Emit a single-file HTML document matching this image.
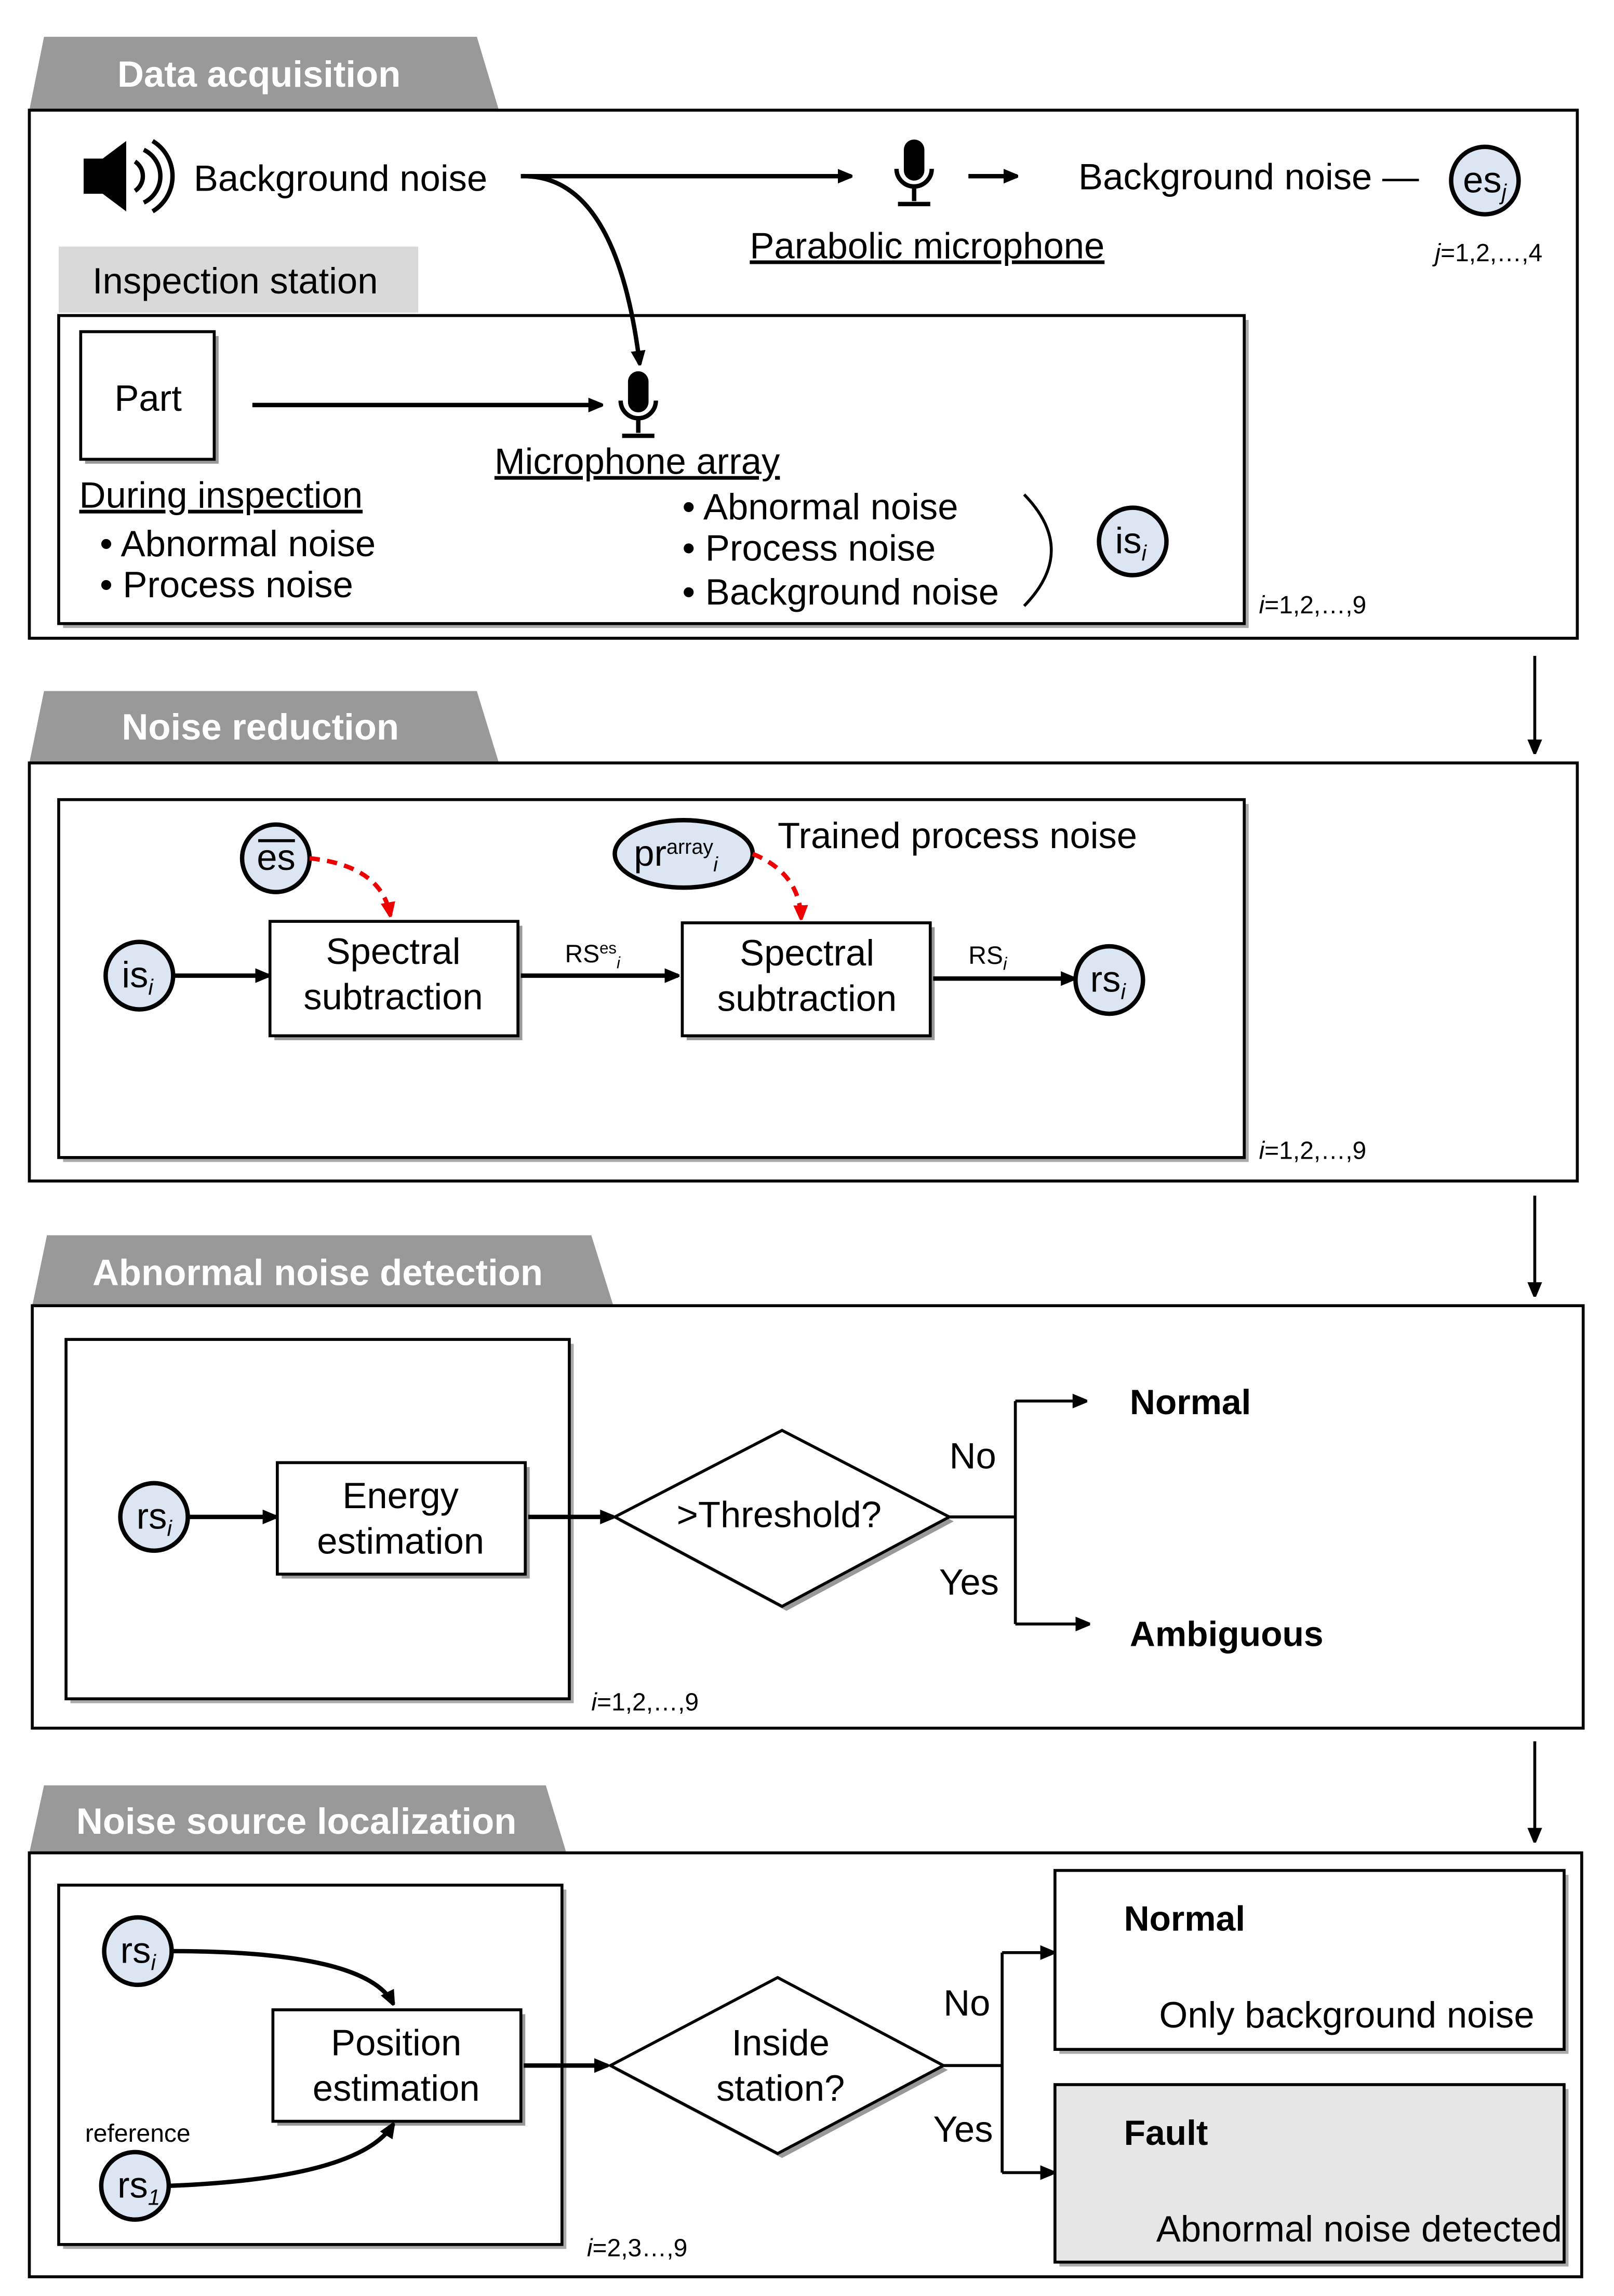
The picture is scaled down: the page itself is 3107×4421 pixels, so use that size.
<!DOCTYPE html>
<html><head><meta charset="utf-8"><style>
html,body{margin:0;padding:0;background:#fff}
svg{display:block}
text{font-family:"Liberation Sans",Arial,sans-serif;fill:#000}
.t{font-size:25px}
.h{font-size:25px;font-weight:bold;fill:#fff}
.b{font-size:24px;font-weight:bold}
.s{font-size:17px}
</style></head><body>
<svg width="3107" height="4421" viewBox="0 0 1100 1565" xmlns="http://www.w3.org/2000/svg">
<defs>
<marker id="ar" markerWidth="10" markerHeight="10" refX="9" refY="5" orient="auto" markerUnits="userSpaceOnUse"><path d="M0,0 L12,5 L0,10 z" fill="#000"/></marker>
<marker id="arr" markerWidth="10" markerHeight="10" refX="9" refY="5" orient="auto" markerUnits="userSpaceOnUse"><path d="M0,0 L12,5 L0,10 z" fill="#e00"/></marker>
<g id="mic"><rect x="-7" y="0" width="14" height="28" rx="7" fill="#000"/><path d="M-12,20 A12,12 0 0 0 12,20" fill="none" stroke="#000" stroke-width="3"/><line x1="0" y1="32" x2="0" y2="42" stroke="#000" stroke-width="3"/><line x1="-11" y1="44" x2="11" y2="44" stroke="#000" stroke-width="3"/></g>
</defs>
<rect width="1100" height="1565" fill="#fff"/>

<!-- Section 1 -->
<polygon points="30,25 325,25 340,75 20,75" fill="#999"/>
<text x="80" y="59" class="h">Data acquisition</text>
<rect x="20" y="75" width="1055" height="360" fill="none" stroke="#000" stroke-width="2"/>
<polygon points="57,108 70,108 86,96 86,144 70,132 57,132" fill="#000"/>
<path d="M92,110 A12,12 0 0 1 92,130 M98,102 A20,20 0 0 1 98,138 M104,96 A28,28 0 0 1 104,144" fill="none" stroke="#000" stroke-width="3"/>
<text x="132" y="130" class="t">Background noise</text>
<line x1="355" y1="120" x2="580" y2="120" stroke="#000" stroke-width="3" marker-end="url(#ar)"/>
<use href="#mic" x="623" y="95"/>
<line x1="660" y1="120" x2="693" y2="120" stroke="#000" stroke-width="3" marker-end="url(#ar)"/>
<text x="735" y="129" class="t">Background noise —</text>
<circle cx="1012" cy="123" r="23" fill="#dce6f2" stroke="#000" stroke-width="3"/>
<text x="997" y="131" class="t">es<tspan font-size="15" font-style="italic" dy="5">j</tspan></text>
<text x="978" y="178" class="s"><tspan font-style="italic">j</tspan>=1,2,…,4</text>
<text x="511" y="176" class="t" text-decoration="underline">Parabolic microphone</text>
<rect x="40" y="168" width="245" height="45" fill="#d9d9d9"/>
<text x="63" y="200" class="t">Inspection station</text>
<rect x="43" y="218" width="808" height="210" fill="#aaa"/>
<rect x="40" y="215" width="808" height="210" fill="#fff" stroke="#000" stroke-width="2"/>
<path d="M355,120 Q420,118 436,248" fill="none" stroke="#000" stroke-width="3" marker-end="url(#ar)"/>
<rect x="58" y="229" width="91" height="87" fill="#999"/>
<rect x="55" y="226" width="91" height="87" fill="#fff" stroke="#000" stroke-width="2"/>
<text x="78" y="280" class="t">Part</text>
<line x1="172" y1="276" x2="410" y2="276" stroke="#000" stroke-width="3" marker-end="url(#ar)"/>
<use href="#mic" x="435" y="253"/>
<text x="337" y="323" class="t" text-decoration="underline">Microphone array</text>
<text x="54" y="346" class="t" text-decoration="underline">During inspection</text>
<text x="68" y="379" class="t">• Abnormal noise</text>
<text x="68" y="407" class="t">• Process noise</text>
<text x="465" y="354" class="t">• Abnormal noise</text>
<text x="465" y="382" class="t">• Process noise</text>
<text x="465" y="412" class="t">• Background noise</text>
<path d="M698,337 Q735,375 698,413" fill="none" stroke="#000" stroke-width="2"/>
<circle cx="772" cy="369" r="23" fill="#dce6f2" stroke="#000" stroke-width="3"/>
<text x="760" y="377" class="t">is<tspan font-size="15" font-style="italic" dy="5">i</tspan></text>
<text x="858" y="418" class="s"><tspan font-style="italic">i</tspan>=1,2,…,9</text>
<line x1="1046" y1="447" x2="1046" y2="513" stroke="#000" stroke-width="2" marker-end="url(#ar)"/>

<!-- Section 2 -->
<polygon points="30,471 325,471 340,520 20,520" fill="#999"/>
<text x="83" y="504" class="h">Noise reduction</text>
<rect x="20" y="520" width="1055" height="285" fill="none" stroke="#000" stroke-width="2"/>
<rect x="43" y="548" width="808" height="244" fill="#aaa"/>
<rect x="40" y="545" width="808" height="244" fill="#fff" stroke="#000" stroke-width="2"/>
<circle cx="188" cy="585" r="23" fill="#dce6f2" stroke="#000" stroke-width="3"/>
<text x="175" y="593" class="t">es</text><line x1="176" y1="573" x2="201" y2="573" stroke="#000" stroke-width="2"/>
<ellipse cx="466" cy="582" rx="47" ry="23" fill="#dce6f2" stroke="#000" stroke-width="3"/>
<text x="432" y="590" class="t">pr<tspan font-size="14" dy="-8">array</tspan><tspan font-size="14" font-style="italic" dy="12">i</tspan></text>
<text x="530" y="578" class="t">Trained process noise</text>
<path d="M211,585 Q260,590 266,624" fill="none" stroke="#e00" stroke-width="3" stroke-dasharray="7,5" marker-end="url(#arr)"/>
<path d="M513,582 Q545,595 546,626" fill="none" stroke="#e00" stroke-width="3" stroke-dasharray="7,5" marker-end="url(#arr)"/>
<circle cx="95" cy="665" r="23" fill="#dce6f2" stroke="#000" stroke-width="3"/>
<text x="83" y="673" class="t">is<tspan font-size="15" font-style="italic" dy="5">i</tspan></text>
<line x1="118" y1="665" x2="183" y2="665" stroke="#000" stroke-width="3" marker-end="url(#ar)"/>
<rect x="187" y="631" width="169" height="78" fill="#999"/>
<rect x="184" y="628" width="169" height="78" fill="#fff" stroke="#000" stroke-width="2"/>
<text x="268" y="657" class="t" text-anchor="middle">Spectral</text>
<text x="268" y="688" class="t" text-anchor="middle">subtraction</text>
<line x1="355" y1="665" x2="462" y2="665" stroke="#000" stroke-width="3" marker-end="url(#ar)"/>
<text x="385" y="656" class="s">RS<tspan font-size="11" dy="-6">es</tspan><tspan font-size="11" font-style="italic" dy="10">i</tspan></text>
<rect x="468" y="632" width="169" height="77" fill="#999"/>
<rect x="465" y="629" width="169" height="77" fill="#fff" stroke="#000" stroke-width="2"/>
<text x="550" y="658" class="t" text-anchor="middle">Spectral</text>
<text x="550" y="689" class="t" text-anchor="middle">subtraction</text>
<line x1="636" y1="667" x2="732" y2="667" stroke="#000" stroke-width="3" marker-end="url(#ar)"/>
<text x="660" y="657" class="s">RS<tspan font-size="12" font-style="italic" dy="4">i</tspan></text>
<circle cx="756" cy="668" r="23" fill="#dce6f2" stroke="#000" stroke-width="3"/>
<text x="743" y="676" class="t">rs<tspan font-size="15" font-style="italic" dy="5">i</tspan></text>
<text x="858" y="790" class="s"><tspan font-style="italic">i</tspan>=1,2,…,9</text>
<line x1="1046" y1="815" x2="1046" y2="883" stroke="#000" stroke-width="2" marker-end="url(#ar)"/>

<!-- Section 3 -->
<polygon points="32,842 403,842 418,890 22,890" fill="#999"/>
<text x="63" y="876" class="h">Abnormal  noise detection</text>
<rect x="22" y="890" width="1057" height="288" fill="none" stroke="#000" stroke-width="2"/>
<rect x="48" y="916" width="343" height="245" fill="#aaa"/>
<rect x="45" y="913" width="343" height="245" fill="#fff" stroke="#000" stroke-width="2"/>
<circle cx="105" cy="1034" r="23" fill="#dce6f2" stroke="#000" stroke-width="3"/>
<text x="93" y="1042" class="t">rs<tspan font-size="15" font-style="italic" dy="5">i</tspan></text>
<line x1="128" y1="1034" x2="188" y2="1034" stroke="#000" stroke-width="3" marker-end="url(#ar)"/>
<rect x="192" y="1000" width="169" height="76" fill="#999"/>
<rect x="189" y="997" width="169" height="76" fill="#fff" stroke="#000" stroke-width="2"/>
<text x="273" y="1028" class="t" text-anchor="middle">Energy</text>
<text x="273" y="1059" class="t" text-anchor="middle">estimation</text>
<line x1="360" y1="1034" x2="418" y2="1034" stroke="#000" stroke-width="3" marker-end="url(#ar)"/>
<polygon points="536,978 650,1037 536,1098 422,1037" fill="#999"/>
<polygon points="533,975 647,1034 533,1095 419,1034" fill="#fff" stroke="#000" stroke-width="2"/>
<text x="531" y="1041" class="t" text-anchor="middle">&gt;Threshold?</text>
<polyline points="647,1034 692,1034" fill="none" stroke="#000" stroke-width="2"/>
<line x1="692" y1="955" x2="692" y2="1107" stroke="#000" stroke-width="2"/>
<line x1="692" y1="955" x2="740" y2="955" stroke="#000" stroke-width="2" marker-end="url(#ar)"/>
<line x1="692" y1="1107" x2="742" y2="1107" stroke="#000" stroke-width="2" marker-end="url(#ar)"/>
<text x="647" y="1001" class="t">No</text>
<text x="640" y="1087" class="t">Yes</text>
<text x="770" y="964" class="b">Normal</text>
<text x="770" y="1122" class="b">Ambiguous</text>
<text x="403" y="1166" class="s"><tspan font-style="italic">i</tspan>=1,2,…,9</text>
<line x1="1046" y1="1187" x2="1046" y2="1255" stroke="#000" stroke-width="2" marker-end="url(#ar)"/>

<!-- Section 4 -->
<polygon points="30,1217 372,1217 386,1263 20,1263" fill="#999"/>
<text x="52" y="1250" class="h">Noise source localization</text>
<rect x="20" y="1263" width="1058" height="289" fill="none" stroke="#000" stroke-width="2"/>
<rect x="43" y="1288" width="343" height="245" fill="#aaa"/>
<rect x="40" y="1285" width="343" height="245" fill="#fff" stroke="#000" stroke-width="2"/>
<circle cx="94" cy="1330" r="23" fill="#dce6f2" stroke="#000" stroke-width="3"/>
<text x="82" y="1338" class="t">rs<tspan font-size="15" font-style="italic" dy="5">i</tspan></text>
<path d="M117,1330 Q250,1330 268,1366" fill="none" stroke="#000" stroke-width="3" marker-end="url(#ar)"/>
<rect x="189" y="1373" width="169" height="76" fill="#999"/>
<rect x="186" y="1370" width="169" height="76" fill="#fff" stroke="#000" stroke-width="2"/>
<text x="270" y="1401" class="t" text-anchor="middle">Position</text>
<text x="270" y="1432" class="t" text-anchor="middle">estimation</text>
<text x="58" y="1460" class="s">reference</text>
<circle cx="92" cy="1490" r="23" fill="#dce6f2" stroke="#000" stroke-width="3"/>
<text x="80" y="1498" class="t">rs<tspan font-size="15" font-style="italic" dy="5">1</tspan></text>
<path d="M115,1490 Q245,1485 268,1448" fill="none" stroke="#000" stroke-width="3" marker-end="url(#ar)"/>
<line x1="357" y1="1408" x2="414" y2="1408" stroke="#000" stroke-width="3" marker-end="url(#ar)"/>
<polygon points="533,1351 646,1411 533,1471 419,1411" fill="#999"/>
<polygon points="530,1348 643,1408 530,1468 416,1408" fill="#fff" stroke="#000" stroke-width="2"/>
<text x="532" y="1401" class="t" text-anchor="middle">Inside</text>
<text x="532" y="1432" class="t" text-anchor="middle">station?</text>
<line x1="643" y1="1408" x2="683" y2="1408" stroke="#000" stroke-width="2"/>
<line x1="683" y1="1331" x2="683" y2="1481" stroke="#000" stroke-width="2"/>
<line x1="683" y1="1331" x2="718" y2="1331" stroke="#000" stroke-width="2" marker-end="url(#ar)"/>
<line x1="683" y1="1481" x2="718" y2="1481" stroke="#000" stroke-width="2" marker-end="url(#ar)"/>
<text x="643" y="1374" class="t">No</text>
<text x="636" y="1460" class="t">Yes</text>
<rect x="722" y="1278" width="347" height="122" fill="#aaa"/>
<rect x="719" y="1275" width="347" height="122" fill="#fff" stroke="#000" stroke-width="2"/>
<text x="766" y="1316" class="b">Normal</text>
<text x="790" y="1382" class="t">Only background noise</text>
<rect x="722" y="1424" width="347" height="121" fill="#aaa"/>
<rect x="719" y="1421" width="347" height="121" fill="#e6e6e6" stroke="#000" stroke-width="2"/>
<text x="766" y="1462" class="b">Fault</text>
<text x="788" y="1528" class="t">Abnormal noise detected</text>
<text x="400" y="1538" class="s"><tspan font-style="italic">i</tspan>=2,3…,9</text>
</svg>
</body></html>
